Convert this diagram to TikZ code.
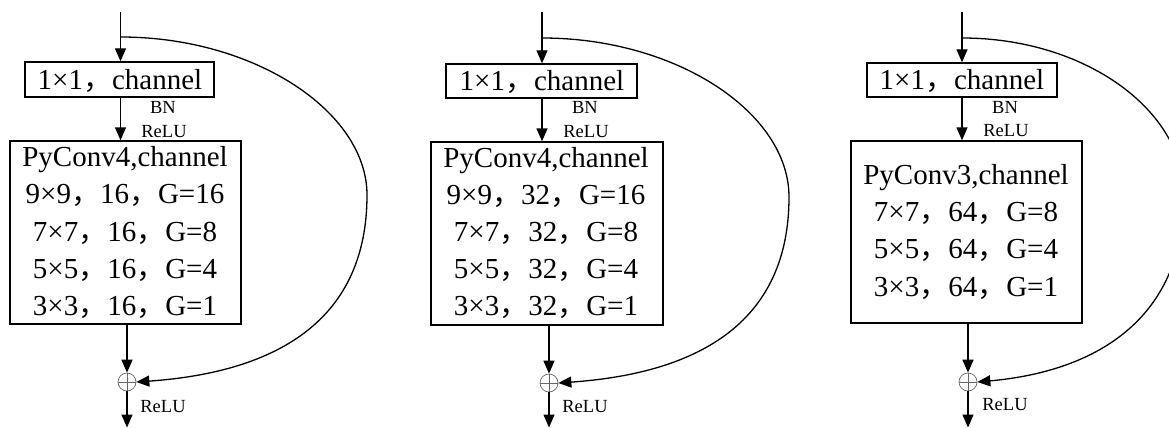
\documentclass[tikz,border=0pt]{standalone}
\usepackage{fontspec}
\setmainfont{Liberation Serif}
\newfontfamily\cjkfont{Noto Sans CJK SC}
\usetikzlibrary{arrows.meta}
\newcommand{\fwc}{{\cjkfont ，}}
\begin{document}
\begin{tikzpicture}[x=1pt,y=-1pt,
  conn/.style={line width=1.4pt,-{Triangle[length=13pt,width=11pt]}},
  skip/.style={line width=1.3pt,-{Triangle[length=13pt,width=11pt]}},
  box/.style={draw,line width=1.4pt,inner sep=0pt},
  big/.style={font=\fontsize{29}{30}\selectfont,anchor=base,inner sep=0pt},
  small/.style={font=\fontsize{18.5}{19}\selectfont,anchor=base,inner sep=0pt},
  plus/.style={circle,draw=black!60,line width=0.7pt,minimum size=18pt,inner sep=0pt,
    path picture={\draw[black!60,line width=0.7pt]
      (path picture bounding box.north) -- (path picture bounding box.south)
      (path picture bounding box.west) -- (path picture bounding box.east);}}]
\useasboundingbox (0,0) rectangle (1169,428);
\clip (0,0) rectangle (1169,428);

% ---------------- Panel 1 ----------------
\coordinate (t1) at (120.5,12);
\coordinate (s1) at (120.5,37);
\node[box,minimum width=189pt,minimum height=35pt] (a1) at (119.5,79.5) {};
\node[big] (a1t) at (120,89) {1×1\fwc channel};
\node[small] (bn1) at (163,113) {BN};
\node[small] (rl1) at (164,137) {ReLU};
\node[box,minimum width=231pt,minimum height=183pt] (c1) at (125.5,232.5) {};
\node[big] (c1a) at (125,166) {PyConv4,channel};
\node[big] (c1b) at (125,203.5) {9×9\fwc 16\fwc G=16};
\node[big] (c1c) at (125,241) {7×7\fwc 16\fwc G=8};
\node[big] (c1d) at (125,278) {5×5\fwc 16\fwc G=4};
\node[big] (c1e) at (125,315) {3×3\fwc 16\fwc G=1};
\node[plus] (p1) at (127,382) {};
\node[small] (rr1) at (163,412) {ReLU};
\coordinate (e1) at (127,427.5);
\draw[conn] (t1) -- (t1 |- a1.north);
\draw[conn] (a1.south -| t1) -- (t1 |- c1.north);
\draw[conn] (c1.south -| p1) -- (p1.north);
\draw[conn] (p1.south) -- (e1);
\draw[skip] (s1) .. controls (255,37) and (367,112) .. (367,195)
  .. controls (367,318) and (280,372) .. (p1.east);

% ---------------- Panel 2 ----------------
\coordinate (t2) at (542,12);
\coordinate (s2) at (542,38);
\node[box,minimum width=191pt,minimum height=34pt] (a2) at (541.5,81) {};
\node[big] (a2t) at (542,90) {1×1\fwc channel};
\node[small] (bn2) at (585,113) {BN};
\node[small] (rl2) at (586,137) {ReLU};
\node[box,minimum width=232pt,minimum height=183pt] (c2) at (547,233.5) {};
\node[big] (c2a) at (546,167) {PyConv4,channel};
\node[big] (c2b) at (546,204) {9×9\fwc 32\fwc G=16};
\node[big] (c2c) at (546,241.5) {7×7\fwc 32\fwc G=8};
\node[big] (c2d) at (546,278.5) {5×5\fwc 32\fwc G=4};
\node[big] (c2e) at (546,315.5) {3×3\fwc 32\fwc G=1};
\node[plus] (p2) at (549,383) {};
\node[small] (rr2) at (585,412) {ReLU};
\coordinate (e2) at (549,427.5);
\draw[conn] (t2) -- (t2 |- a2.north);
\draw[conn] (a2.south -| t2) -- (t2 |- c2.north);
\draw[conn] (c2.south -| p2) -- (p2.north);
\draw[conn] (p2.south) -- (e2);
\draw[skip] (s2) .. controls (677,38) and (789,113) .. (789,197)
  .. controls (789,320) and (702,373) .. (p2.east);

% ---------------- Panel 3 ----------------
\coordinate (t3) at (962,12);
\coordinate (s3) at (962,38);
\node[box,minimum width=190pt,minimum height=34pt] (a3) at (962,80) {};
\node[big] (a3t) at (962,89) {1×1\fwc channel};
\node[small] (bn3) at (1005,113) {BN};
\node[small] (rl3) at (1006,136) {ReLU};
\node[box,minimum width=231pt,minimum height=182pt] (c3) at (966.5,232) {};
\node[big] (c3a) at (966,184) {PyConv3,channel};
\node[big] (c3b) at (966,221.5) {7×7\fwc 64\fwc G=8};
\node[big] (c3c) at (966,258.5) {5×5\fwc 64\fwc G=4};
\node[big] (c3d) at (966,296) {3×3\fwc 64\fwc G=1};
\node[plus] (p3) at (968,382) {};
\node[small] (rr3) at (1005,410) {ReLU};
\coordinate (e3) at (968,427.5);
\draw[conn] (t3) -- (t3 |- a3.north);
\draw[conn] (a3.south -| t3) -- (t3 |- c3.north);
\draw[conn] (c3.south -| p3) -- (p3.north);
\draw[conn] (p3.south) -- (e3);
\draw[skip] (s3) .. controls (1085,38) and (1184,110) .. (1184,195)
  .. controls (1184,316) and (1100,371) .. (p3.east);
\end{tikzpicture}
\end{document}
